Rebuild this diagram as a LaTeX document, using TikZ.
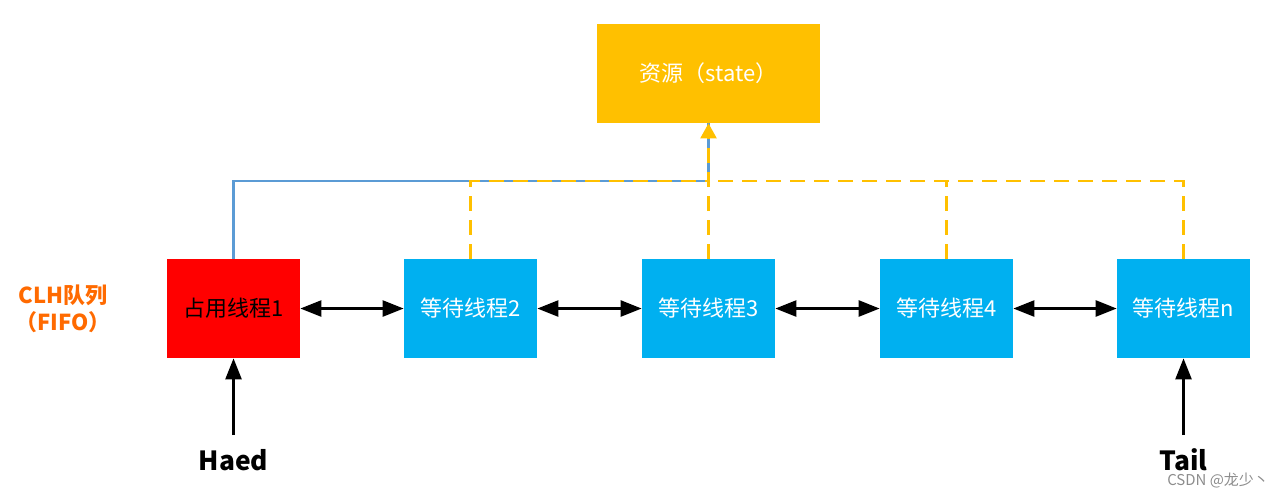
\documentclass[tikz,border=0pt]{standalone}
\usepackage{fontspec}
\setmainfont{Noto Sans CJK SC}
\usetikzlibrary{arrows.meta,positioning}
\definecolor{resyellow}{HTML}{FFC000}
\definecolor{waitblue}{HTML}{00B0F0}
\definecolor{lineblue}{HTML}{5B9BD5}
\definecolor{queueorange}{HTML}{FF6A00}
\tikzstyle{every picture}+=[font=\fontsize{12.5}{15}\selectfont]

\begin{document}
\begin{tikzpicture}
		[inner sep=0pt,
		thread/.style={minimum width=2.66cm, minimum height=1.98cm},
		link/.style={line width=1.4pt, {Triangle[length=4.2mm,width=3.2mm]}-{Triangle[length=4.2mm,width=3.2mm]}},
		ptr/.style={line width=1.4pt, -{Triangle[length=4.2mm,width=3.2mm]}},
		wait/.style={dashed, dash pattern=on 0.3cm off 0.18cm, draw=resyellow, line width=1.3pt}]
		
		\useasboundingbox (0, 0) rectangle (25.64, -9.98);
		
		% resource -----------------------------------------------
		\node[fill=resyellow, text=white, minimum width=4.46cm, minimum height=1.98cm]
		(res) at (14.17, -1.47) {资源（state）};
		
		% threads ------------------------------------------------
		\node[thread, fill=red]                  (th1) at (4.67, -6.17)  {占用线程1};
		\node[thread, fill=waitblue, text=white] (th2) at (9.41, -6.17)  {等待线程2};
		\node[thread, fill=waitblue, text=white] (th3) at (14.17, -6.17) {等待线程3};
		\node[thread, fill=waitblue, text=white] (th4) at (18.93, -6.17) {等待线程4};
		\node[thread, fill=waitblue, text=white] (thn) at (23.67, -6.17) {等待线程n};
		
		\draw[link] (th1) -- (th2);
		\draw[link] (th2) -- (th3);
		\draw[link] (th3) -- (th4);
		\draw[link] (th4) -- (thn);
		
		% owner and waiters --------------------------------------
		\coordinate (bus) at (14.17, -3.62);
		
		\draw[lineblue, line width=1.4pt] (th1.north) |- (bus) -- (res.south);
		
		\draw[wait] (th2.north) |- (bus);
		\draw[wait] (thn.north) |- (bus);
		\draw[wait] (th4.north) -- (th4.north |- bus);
		\draw[wait, -{Triangle[length=3mm,width=3.2mm]}] (th3.north) -- (res.south);
		
		% queue label --------------------------------------------
		\node[text=queueorange, font=\fontsize{12.5}{15}\selectfont\bfseries] (clh) at (1.26, -5.9) {CLH队列};
		\node[text=queueorange, font=\fontsize{12.5}{15}\selectfont\bfseries] (fifo) at (1.26, -6.44) {（FIFO）};
		
		% head and tail ------------------------------------------
		\node[font=\fontsize{15}{17}\selectfont\bfseries] (head) at (4.67, -9.2) {Haed};
		\node[font=\fontsize{15}{17}\selectfont\bfseries] (tail) at (23.67, -9.2) {Tail};
		
		\coordinate (headend) at (4.67, -8.7);
		\coordinate (tailend) at (23.67, -8.7);
		
		\draw[ptr] (headend) -- (th1.south);
		\draw[ptr] (tailend) -- (thn.south);
		
		\node[text=black!45, font=\fontsize{8.5}{10}\selectfont] (mark) at (24.36, -9.62) {CSDN @龙少丶};
\end{tikzpicture}
\end{document}
